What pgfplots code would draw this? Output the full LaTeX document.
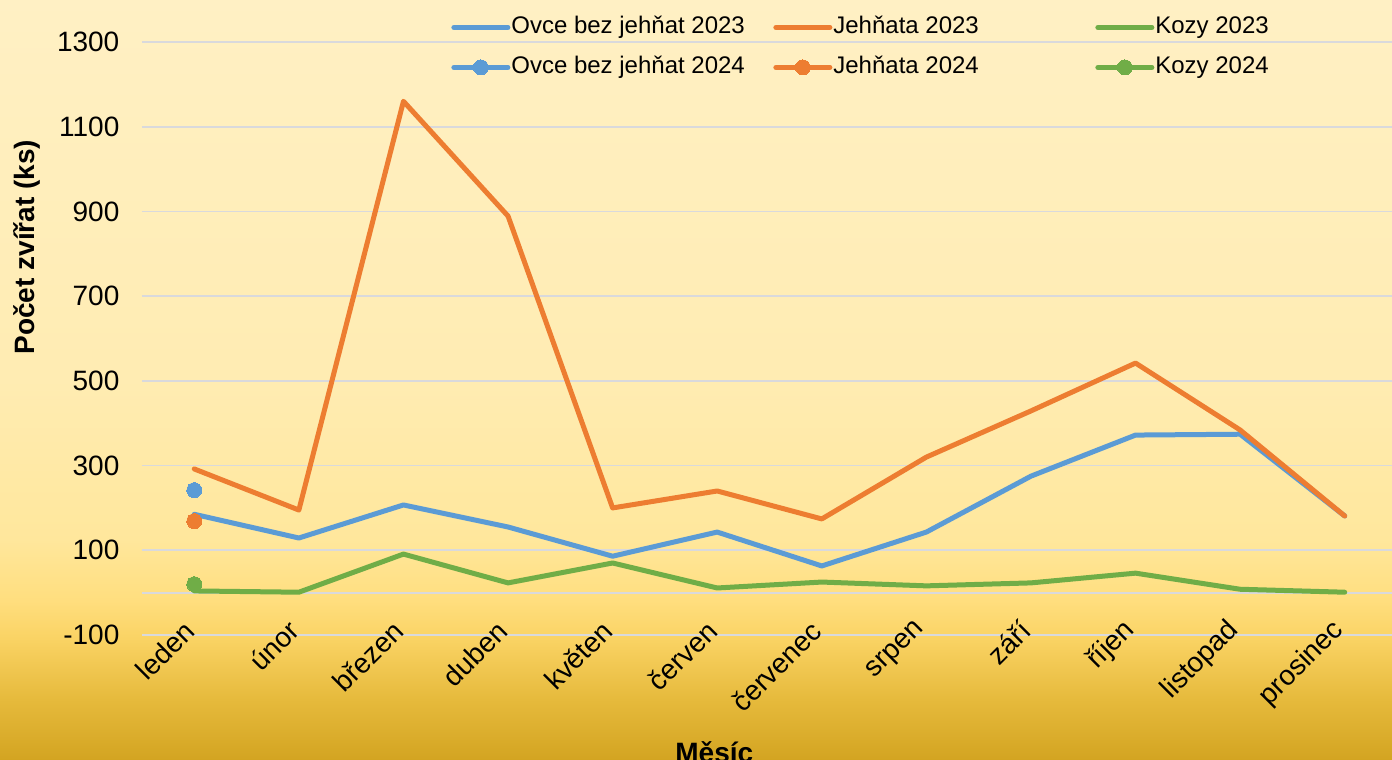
\documentclass[border=0pt]{standalone}
\usepackage{pgfplots}
\pgfplotsset{compat=1.18}
\usepackage{fontspec}
\setmainfont{Liberation Sans}
\definecolor{cblue}{HTML}{5B9BD5}
\definecolor{corange}{HTML}{ED7D31}
\definecolor{cgreen}{HTML}{70AD47}
\definecolor{cgrid}{HTML}{D9D9DC}
\definecolor{bg0}{HTML}{D3A421}
\definecolor{bg1}{HTML}{E6BA3C}
\definecolor{bg2}{HTML}{FAD364}
\definecolor{bg3}{HTML}{FFDE7E}
\definecolor{bg4}{HTML}{FFE79C}
\definecolor{bg5}{HTML}{FFECB2}
\definecolor{bg6}{HTML}{FFF0C4}
\pgfdeclareverticalshading{bgshade}{100bp}{color(0bp)=(bg0); color(25bp)=(bg0); color(29bp)=(bg1); color(33bp)=(bg2); color(35.5bp)=(bg3); color(39.5bp)=(bg4); color(50bp)=(bg5); color(75bp)=(bg6); color(100bp)=(bg6)}
\begin{document}
\begin{tikzpicture}
\useasboundingbox (0,0) rectangle (696pt,380pt);
\shade[shading=bgshade] (0,0) rectangle (696pt,380pt);
\begin{axis}[
  at={(71pt,62.5pt)}, anchor=south west,
  scale only axis, width=627.5pt, height=296.5pt,
  xmin=-0.5, xmax=11.5, ymin=-100, ymax=1300,
  axis line style={draw=none},
  major tick length=0pt,
  xtick={0,...,11},
  xticklabels={leden,únor,březen,duben,květen,červen,červenec,srpen,září,říjen,listopad,prosinec},
  ytick={-100,100,300,500,700,900,1100,1300},
  yticklabels={-100,100,300,500,700,900,1100,1300},
  extra y ticks={0}, extra y tick labels={},
  extra y tick style={grid=major},
  ymajorgrids, grid style={cgrid, line width=0.9pt},
  tick label style={font=\fontsize{14}{16}\selectfont, text=black},
  yticklabel style={anchor=east, xshift=-7.8pt},
  xticklabel style={rotate=45, anchor=east, inner sep=0pt, xshift=1.5pt, yshift=5pt},
  ylabel={\textbf{Počet zvířat (ks)}},
  ylabel style={font=\fontsize{14}{16}\selectfont, at={(axis description cs:-0.0916,0.654)}, anchor=center},
  xlabel={\textbf{Měsíc}},
  xlabel style={font=\fontsize{14}{16}\selectfont, at={(axis description cs:0.456,-0.197)}, anchor=center},
  every axis plot/.append style={line width=2.5pt, line cap=round, line join=round},
  legend columns=3,
  legend style={at={(axis description cs:0.2462,1.0455)}, anchor=north west, draw=none, fill=none,
    inner sep=0pt, column sep=0pt, row sep=8pt,
    font=\fontsize{12}{14}\selectfont,
    nodes={inner sep=0pt, text height=9pt, text depth=3pt}},
  legend cell align=left,
  legend image code/.code={\draw[mark repeat=2,mark phase=2,#1] plot coordinates {(0pt,0pt) (13.5pt,0pt) (27pt,0pt)};},
]
\addplot[cblue] coordinates {(0,185) (1,129) (2,207) (3,155) (4,86) (5,143) (6,63) (7,143) (8,275) (9,372) (10,374) (11,181)};
\addlegendentry{\makebox[131.5pt][l]{\hspace{0.5pt}Ovce bez jehňat 2023}}
\addplot[corange] coordinates {(0,292) (1,195) (2,1160) (3,889) (4,200) (5,240) (6,174) (7,320) (8,429) (9,542) (10,384) (11,181)};
\addlegendentry{\makebox[131.5pt][l]{\hspace{0.5pt}Jehňata 2023}}
\addplot[cgreen] coordinates {(0,4) (1,1) (2,91) (3,23) (4,70) (5,11) (6,25) (7,16) (8,23) (9,46) (10,8) (11,1)};
\addlegendentry{\makebox[131.5pt][l]{\hspace{0.5pt}Kozy 2023}}
\addplot[cblue, mark=*, mark size=3.75pt, mark options={line width=0pt}] coordinates {(0,242)};
\addlegendentry{\makebox[131.5pt][l]{\hspace{0.5pt}Ovce bez jehňat 2024}}
\addplot[corange, mark=*, mark size=3.75pt, mark options={line width=0pt}] coordinates {(0,169)};
\addlegendentry{\makebox[131.5pt][l]{\hspace{0.5pt}Jehňata 2024}}
\addplot[cgreen, mark=*, mark size=3.75pt, mark options={line width=0pt}] coordinates {(0,20)};
\addlegendentry{\makebox[131.5pt][l]{\hspace{0.5pt}Kozy 2024}}
\end{axis}
\end{tikzpicture}
\end{document}
